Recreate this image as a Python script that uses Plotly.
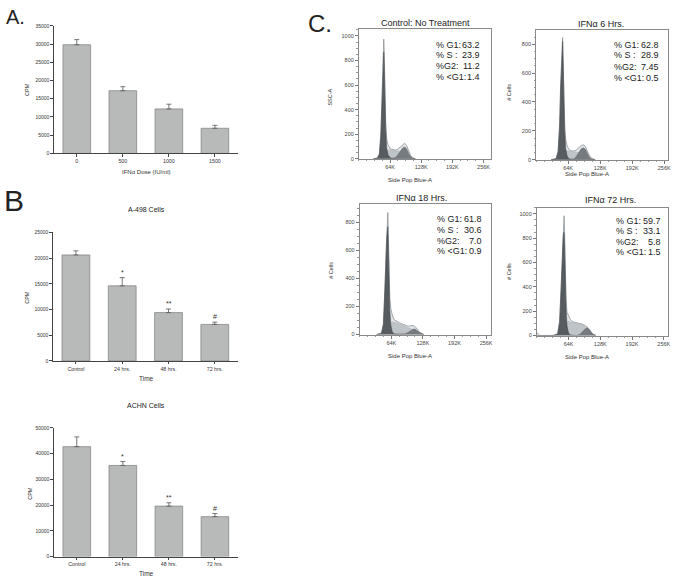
import plotly.graph_objects as go

W, H = 678, 583
FONT = "Liberation Sans, Arial, sans-serif"

# ---------------- Data ----------------
dose_labels = ["0", "500", "1000", "1500"]
dose_cpm = [29800, 17200, 12200, 6900]
dose_err = [1400, 1100, 1300, 800]
dose_sig = ["", "*", "**", "#"]

time_labels = ["Control", "24 hrs.", "48 hrs.", "72 hrs."]
a498_cpm = [20600, 14600, 9400, 7100]
a498_err = [800, 1600, 700, 450]
achn_cpm = [42700, 35400, 19600, 15500]
achn_err = [3800, 1500, 1300, 1200]
time_sig = ["", "*", "**", "#"]

# Flow histograms (x in K units of Side Pop Blue-A, y = # cells)
ctrl_x = [30, 38, 42, 45, 47, 49, 50, 51, 52, 53, 55, 57, 60, 65, 70, 75, 80, 85, 90, 94, 98, 102, 106, 110, 116]
ctrl_tot = [0, 5, 40, 200, 450, 760, 900, 975, 880, 600, 300, 160, 110, 80, 72, 70, 78, 98, 118, 126, 108, 65, 28, 8, 0]
ctrl_g1 = [0, 4, 35, 180, 410, 690, 820, 870, 780, 520, 240, 90, 30, 6, 0, 0, 0, 0, 0, 0, 0, 0, 0, 0, 0]
ctrl_s = [0, 0, 0, 0, 0, 5, 10, 20, 35, 50, 62, 68, 70, 70, 68, 66, 64, 60, 52, 42, 30, 15, 5, 0, 0]
ctrl_g2 = [0, 0, 0, 0, 0, 0, 0, 0, 0, 0, 0, 0, 0, 0, 2, 10, 30, 60, 88, 96, 80, 45, 18, 4, 0]

h6_x = [30, 40, 44, 47, 49, 51, 52, 53, 54, 55, 57, 59, 62, 66, 70, 75, 80, 85, 90, 95, 99, 103, 107, 112, 118]
h6_tot = [0, 8, 60, 250, 520, 760, 830, 846, 700, 480, 250, 140, 95, 70, 62, 60, 65, 82, 98, 103, 88, 55, 25, 8, 0]
h6_g1 = [0, 6, 55, 230, 490, 720, 800, 820, 670, 440, 200, 80, 25, 5, 0, 0, 0, 0, 0, 0, 0, 0, 0, 0, 0]
h6_s = [0, 0, 0, 0, 5, 10, 18, 28, 38, 45, 55, 60, 62, 60, 58, 56, 54, 52, 45, 38, 28, 15, 5, 0, 0]
h6_g2 = [0, 0, 0, 0, 0, 0, 0, 0, 0, 0, 0, 0, 0, 0, 0, 5, 20, 50, 75, 82, 70, 40, 15, 3, 0]

h18_x = [34, 44, 48, 51, 53, 55, 56, 57, 58, 59, 61, 63, 66, 70, 75, 80, 86, 92, 98, 104, 108, 112, 116, 122, 130]
h18_tot = [0, 10, 80, 300, 560, 780, 850, 870, 720, 480, 260, 185, 140, 105, 92, 85, 75, 65, 60, 62, 64, 58, 40, 15, 0]
h18_g1 = [0, 8, 70, 270, 500, 700, 760, 770, 630, 400, 180, 70, 20, 4, 0, 0, 0, 0, 0, 0, 0, 0, 0, 0, 0]
h18_s = [0, 0, 0, 5, 10, 18, 25, 35, 45, 55, 70, 85, 90, 88, 82, 76, 68, 58, 50, 42, 35, 25, 15, 5, 0]
h18_g2 = [0, 0, 0, 0, 0, 0, 0, 0, 0, 0, 0, 0, 0, 0, 0, 0, 0, 5, 15, 30, 38, 40, 30, 12, 0]

h72_x = [0, 3, 6, 33, 42, 46, 49, 51, 53, 54, 55, 56, 57, 59, 61, 64, 68, 73, 80, 87, 93, 98, 102, 107, 112, 119]
h72_tot = [25, 15, 0, 0, 15, 120, 400, 700, 900, 960, 984, 860, 600, 300, 190, 160, 130, 112, 105, 100, 92, 80, 68, 40, 15, 0]
h72_g1 = [0, 0, 0, 0, 12, 110, 370, 640, 800, 840, 848, 740, 500, 220, 80, 20, 4, 0, 0, 0, 0, 0, 0, 0, 0, 0]
h72_s = [0, 0, 0, 0, 0, 5, 15, 25, 40, 50, 60, 70, 80, 95, 110, 120, 110, 103, 100, 98, 92, 78, 60, 35, 12, 0]
h72_g2 = [0, 0, 0, 0, 0, 0, 0, 0, 0, 0, 0, 0, 0, 0, 0, 0, 0, 0, 0, 10, 35, 55, 63, 45, 15, 0]

stats_labels = ["% G1:", "% S :", "%G2:", "% <G1:"]
ctrl_stats = ["63.2", "23.9", "11.2", "1.4"]
h6_stats = ["62.8", "28.9", "7.45", "0.5"]
h18_stats = ["61.8", "30.6", "7.0", "0.9"]
h72_stats = ["59.7", "33.1", "5.8", "1.5"]


def px(x):
    return x / W


def py(y):
    return 1 - y / H


fig = go.Figure()
annotations = []

# ---------------- Bar panels ----------------
BAR_FILL = "#b7bab9"
BAR_LINE = "#858887"

bar_panels = [
    ("", dose_labels, dose_cpm, dose_err, dose_sig, (54, 239), (23, 152), 35000, 5000),
    ("2", time_labels, a498_cpm, a498_err, time_sig, (53, 239), (231.7, 361.7), 25000, 5000),
    ("3", time_labels, achn_cpm, achn_err, time_sig, (54, 239), (429.3, 559.3), 50000, 10000),
]

layout_axes = {}
for suf, labels, vals, errs, sig, xd, yd, ymax, dt in bar_panels:
    fig.add_trace(go.Bar(
        x=labels, y=vals, xaxis="x" + suf, yaxis="y" + suf,
        width=0.6,
        marker=dict(color=BAR_FILL, line=dict(color=BAR_LINE, width=0.8)),
        error_y=dict(type="data", symmetric=False, array=errs,
                     arrayminus=[0] * len(errs), color="#555", thickness=0.8, width=2.5),
        showlegend=False,
    ))
    layout_axes["xaxis" + suf] = dict(
        domain=[px(xd[0]), px(xd[1])], anchor="y" + suf, type="category",
        range=[-0.5, 3.5], showline=True, linecolor="#444", linewidth=0.8,
        ticks="outside", ticklen=2.5, tickcolor="#444", tickwidth=0.8,
        tickfont=dict(size=5.3, color="#333", family=FONT), showgrid=False,
    )
    layout_axes["yaxis" + suf] = dict(
        domain=[py(yd[1]), py(yd[0])], anchor="x" + suf,
        range=[0, ymax], dtick=dt, tickformat="d", showline=True, linecolor="#444", linewidth=0.8,
        ticks="outside", ticklen=2.5, tickcolor="#444", tickwidth=0.8,
        tickfont=dict(size=5, color="#333", family=FONT), showgrid=False, zeroline=False,
    )
    for lab, v, e, s in zip(labels, vals, errs, sig):
        if s:
            annotations.append(dict(
                x=lab, y=v + e, xref="x" + suf, yref="y" + suf, text=s, showarrow=False,
                yanchor="bottom", yshift=0, font=dict(size=7, color="#333", family=FONT)))

# ---------------- Flow histograms ----------------
C_TOT_FILL = "rgba(226,229,232,1)"
C_TOT_LINE = "#8f9498"
C_S = "#bfc4c9"
C_G2 = "#767b80"
C_G1 = "#575c61"

hist_panels = [
    ("4", ctrl_x, ctrl_tot, ctrl_g1, ctrl_s, ctrl_g2, (360.5, 493), (26, 157.3), 271, 1059, 1000),
    ("5", h6_x, h6_tot, h6_g1, h6_s, h6_g2, (538.5, 670.7), (27.7, 158.3), 263, 896, 800),
    ("6", h18_x, h18_tot, h18_g1, h18_s, h18_g2, (361.3, 492.7), (203.3, 335), 265, 929, 800),
    ("7", h72_x, h72_tot, h72_g1, h72_s, h72_g2, (539.2, 670.7), (206.7, 336), 264, 1051, 1000),
]

for suf, xs, tot, g1, s, g2, xd, yd, xmax, ymax, ytop in hist_panels:
    xa, ya = "x" + suf, "y" + suf
    fig.add_trace(go.Scatter(x=xs, y=tot, xaxis=xa, yaxis=ya, mode="lines", fill="tozeroy",
                             fillcolor=C_TOT_FILL, line=dict(color=C_TOT_LINE, width=0.8),
                             showlegend=False, hoverinfo="skip"))
    fig.add_trace(go.Scatter(x=xs, y=s, xaxis=xa, yaxis=ya, mode="lines", fill="tozeroy",
                             fillcolor=C_S, line=dict(color="#a9aeb3", width=0.5),
                             showlegend=False, hoverinfo="skip"))
    fig.add_trace(go.Scatter(x=xs, y=g2, xaxis=xa, yaxis=ya, mode="lines", fill="tozeroy",
                             fillcolor=C_G2, line=dict(color="#60656a", width=0.5),
                             showlegend=False, hoverinfo="skip"))
    fig.add_trace(go.Scatter(x=xs, y=g1, xaxis=xa, yaxis=ya, mode="lines", fill="tozeroy",
                             fillcolor=C_G1, line=dict(color="#44494d", width=0.5),
                             showlegend=False, hoverinfo="skip"))
    layout_axes["xaxis" + suf] = dict(
        domain=[px(xd[0]), px(xd[1])], anchor=ya, range=[0, xmax],
        tickvals=[64, 128, 192, 256], ticktext=["64K", "128K", "192K", "256K"],
        showline=True, mirror=True, linecolor="#8a8a8a", linewidth=1,
        ticks="outside", ticklen=3, tickcolor="#777", tickwidth=0.8,
        minor=dict(ticks="outside", ticklen=1.5, tickcolor="#999", dtick=16),
        tickfont=dict(size=5.5, color="#444", family=FONT), showgrid=False, zeroline=False,
    )
    layout_axes["yaxis" + suf] = dict(
        domain=[py(yd[1]), py(yd[0])], anchor=xa, range=[0, ymax],
        tickvals=list(range(0, ytop + 1, 200)),
        showline=True, mirror=True, linecolor="#8a8a8a", linewidth=1,
        ticks="outside", ticklen=3, tickcolor="#777", tickwidth=0.8,
        minor=dict(ticks="outside", ticklen=1.5, tickcolor="#999", dtick=50),
        tickfont=dict(size=5.5, color="#444", family=FONT), showgrid=False, zeroline=False,
    )

# ---------------- Text annotations ----------------
def add_text(x, y, text, size, xanchor="center", yanchor="middle", angle=0, color="#222"):
    annotations.append(dict(x=px(x), y=py(y), xref="paper", yref="paper", text=text,
                            showarrow=False, xanchor=xanchor, yanchor=yanchor, textangle=angle,
                            font=dict(size=size, color=color, family=FONT)))


add_text(4, 14, "A.", 20, xanchor="left")
add_text(2, 200, "B", 30, xanchor="left")
add_text(307, 21, "C.", 24, xanchor="left")

add_text(147, 209, "A-498 Cells", 7)
add_text(147, 407, "ACHN Cells", 7)
add_text(27, 87, "CPM", 5.5, angle=-90)
add_text(27, 297, "CPM", 5.5, angle=-90)
add_text(30, 495, "CPM", 5.5, angle=-90)
add_text(147, 171, "IFNα Dose (IU/ml)", 6, color="#333")
add_text(147, 379, "Time", 6.5, color="#333")
add_text(147, 576.5, "Time", 6.5, color="#333")

add_text(427, 20, "Control: No Treatment", 9)
add_text(604, 21, "IFNα 6 Hrs.", 9)
add_text(423, 197, "IFNα 18 Hrs.", 9)
add_text(613, 199, "IFNα 72 Hrs.", 9)

add_text(331, 95, "SSC-A", 5.5, angle=-90, color="#333")
add_text(511, 90, "# Cells", 5.5, angle=-90, color="#333")
add_text(333, 270, "# Cells", 5.5, angle=-90, color="#333")
add_text(511, 271, "# Cells", 5.5, angle=-90, color="#333")
add_text(412, 179, "Side Pop Blue-A", 6, color="#333")
add_text(590, 173, "Side Pop Blue-A", 6, color="#333")
add_text(412, 357, "Side Pop Blue-A", 6, color="#333")
add_text(590, 358, "Side Pop Blue-A", 6, color="#333")

stat_blocks = [
    (ctrl_stats, 436, 484, [42, 53, 64, 75]),
    (h6_stats, 615, 664, [42, 53, 65, 76]),
    (h18_stats, 437, 486, [218, 229, 240, 251]),
    (h72_stats, 617, 666, [220, 230, 241, 252]),
]
for vals, xl, xr, ys in stat_blocks:
    for lab, v, yy in zip(stats_labels, vals, ys):
        add_text(xl, yy, lab, 9, xanchor="left")
        add_text(xr, yy, v, 9, xanchor="right")

fig.update_layout(
    width=W, height=H, margin=dict(l=0, r=0, t=0, b=0),
    paper_bgcolor="white", plot_bgcolor="white",
    font=dict(family=FONT), showlegend=False, bargap=0.4,
    annotations=annotations, **layout_axes,
)

fig.write_html("out.html", config={"displayModeBar": False},
               post_script="document.body.style.margin='0';")
